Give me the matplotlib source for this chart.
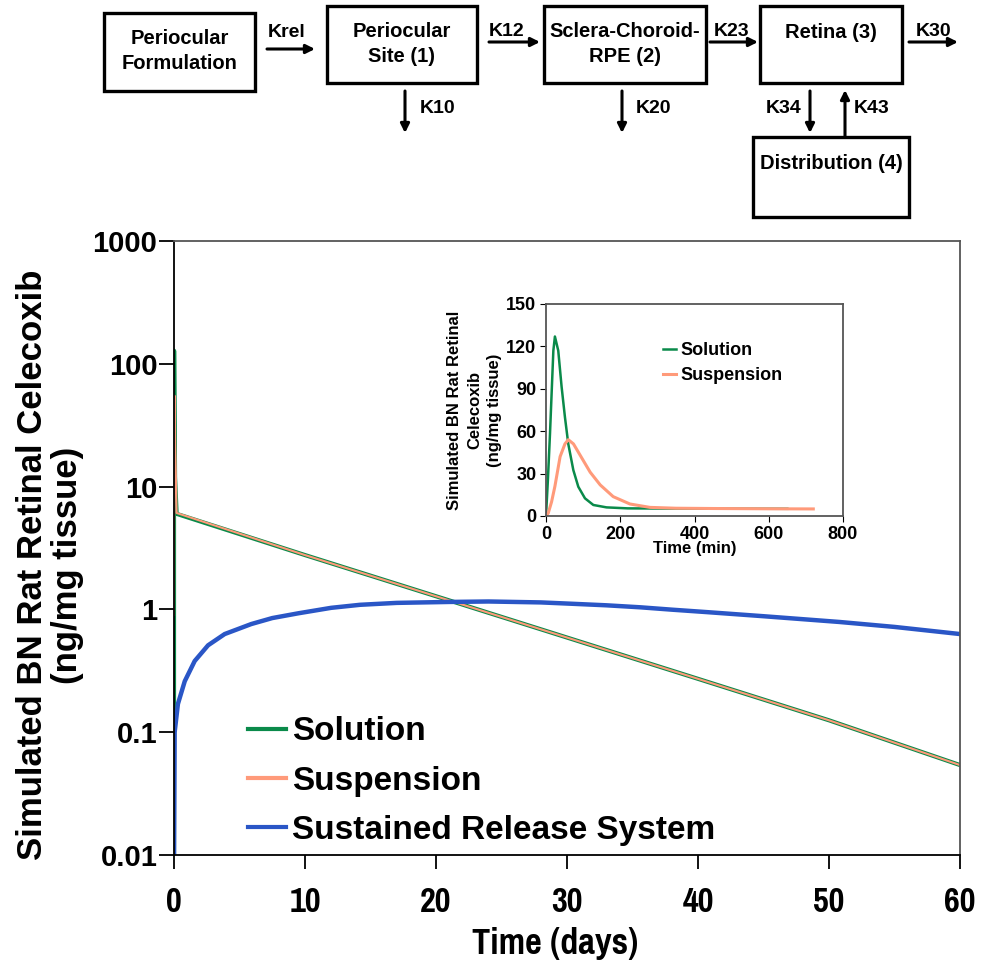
import matplotlib
matplotlib.use("Agg")
import matplotlib.pyplot as plt
from matplotlib.patches import Rectangle
from matplotlib import font_manager

# fuentes
plt.rcParams['font.family'] = ['Liberation Sans', 'DejaVu Sans']
plt.rcParams['font.weight'] = 'bold'

# buscar una fuente estrecha en negrita para el eje x (primero Liberation Sans Narrow)
fp_narrow = None
ficheros = [f.fname for f in font_manager.fontManager.ttflist]
for clave in ['liberationsansnarrow-bold.', 'narrow-bold', 'narrowbold', 'condensed-bold', 'condensedbold']:
    for fn in ficheros:
        base = fn.lower().replace(' ', '').split('/')[-1]
        if clave in base and 'italic' not in base and 'oblique' not in base:
            fp_narrow = font_manager.FontProperties(fname=fn)
            break
    if fp_narrow is not None:
        break
es_estrecha = fp_narrow is not None and 'narrow' in fp_narrow.get_file().lower()
if not es_estrecha:
    fp_narrow = font_manager.FontProperties(family='Liberation Sans', weight='bold')
tam_x = 27 if es_estrecha else 22

# datos del grafico principal (dias)
sol_days = [0.0, 0.0005, 0.017, 0.08, 0.2, 10, 20, 30, 40, 50, 60]
sol_vals = [0.0, 128, 126, 12, 6.0, 2.77, 1.28, 0.59, 0.272, 0.125, 0.054]
sus_days = [0.0005, 0.015, 0.042, 0.1, 0.2, 10, 20, 30, 40, 50, 60]
sus_vals = [0.9, 32, 55, 20, 6.1, 2.77, 1.28, 0.59, 0.272, 0.125, 0.054]
srs_days = [0.0, 0.001, 0.05, 0.3, 0.82, 1.58, 2.6, 3.87, 5.9, 7.5, 9.5, 12, 14.2,
            17, 21, 24, 28, 30.5, 33, 35.6, 38, 40.7, 45, 50.8, 55, 60]
srs_vals = [0.01, 0.01, 0.10, 0.17, 0.26, 0.38, 0.51, 0.63, 0.76, 0.85, 0.93, 1.03, 1.09,
            1.13, 1.15, 1.16, 1.14, 1.11, 1.08, 1.04, 0.995, 0.95, 0.88, 0.79, 0.72, 0.63]

# datos del recuadro (minutos)
ins_sol_min = [0, 5, 10.8, 19.8, 24, 33, 42, 51, 60, 73.6, 87, 105, 127.5, 163, 220, 300, 450, 650]
ins_sol_val = [0, 25, 58.5, 117, 127, 117, 91.5, 70, 51, 32.5, 20.7, 12.5, 7.8, 6.1, 5.4, 5.3, 5.2, 5.1]
ins_sus_min = [0, 6, 15, 24, 38, 51, 60, 74, 92, 119, 146, 181, 226, 280, 350, 450, 600, 720]
ins_sus_val = [0, 2, 10, 21, 42, 51, 54, 51, 43, 31, 22, 13.7, 8.5, 6.1, 5.5, 5.3, 5.1, 5.0]

c_sol = '#0a8a4a'
c_sus = '#ff9a7a'
c_srs = '#2a56c6'
c_frame = '#555555'

fig = plt.figure(figsize=(9.82, 9.69), dpi=100)

# grafico principal
ax = fig.add_axes([174/982, 1-855/969, (960-174)/982, (855-241)/969])
ax.plot(sol_days, sol_vals, color=c_sol, lw=3, label='Solution')
ax.plot(sus_days, sus_vals, color=c_sus, lw=1.5, label='Suspension')
ax.plot(srs_days, srs_vals, color=c_srs, lw=3.2, label='Sustained Release System')
ax.set_yscale('log')
ax.set_ylim(0.01, 1000)
ax.set_xlim(0, 60)
ax.set_yticks([0.01, 0.1, 1, 10, 100, 1000])
ax.set_yticklabels(['0.01', '0.1', '1', '10', '100', '1000'])
ax.minorticks_off()
ax.set_xticks([0, 10, 20, 30, 40, 50, 60])
ax.tick_params(axis='y', direction='out', length=11, width=1.3, labelsize=21, pad=1)
ax.tick_params(axis='x', direction='out', length=10, width=1.3, pad=12)
for lab in ax.get_xticklabels():
    lab.set_fontproperties(fp_narrow)
    lab.set_fontsize(tam_x)
for lab in ax.get_yticklabels():
    lab.set_fontweight('bold')
for s in ax.spines.values():
    s.set_color(c_frame)
    s.set_linewidth(1.3)
ax.spines['left'].set_color('black')
ax.spines['bottom'].set_color('black')
leg = ax.legend(loc='lower left', bbox_to_anchor=(0.069, -0.018), frameon=False,
                prop={'weight': 'bold', 'size': 24}, handlelength=1.12,
                handletextpad=0.2, labelspacing=0.55, borderaxespad=0.2)
for h in leg.get_lines():
    h.set_linewidth(3)

fig.text(33/982, 1-565/969, 'Simulated BN Rat Retinal Celecoxib', rotation=90,
         ha='center', va='center', fontsize=25, fontweight='bold')
fig.text(68/982, 1-565/969, '(ng/mg tissue)', rotation=90,
         ha='center', va='center', fontsize=25, fontweight='bold')
xl = fig.text(555/982, 1-944/969, 'Time (days)', ha='center', va='center',
              fontproperties=fp_narrow)
xl.set_fontsize(tam_x + 1.5)

# recuadro
ins = fig.add_axes([546/982, 1-516/969, (843-546)/982, (516-304)/969])
ins.plot(ins_sol_min, ins_sol_val, color=c_sol, lw=1.8, label='Solution')
ins.plot(ins_sus_min, ins_sus_val, color=c_sus, lw=2.2, label='Suspension')
ins.set_xlim(0, 800)
ins.set_ylim(0, 150)
ins.set_xticks([0, 200, 400, 600, 800])
ins.set_yticks([0, 30, 60, 90, 120, 150])
ins.tick_params(direction='out', length=4, labelsize=13, pad=3)
for lab in ins.get_xticklabels() + ins.get_yticklabels():
    lab.set_fontweight('bold')
for s in ins.spines.values():
    s.set_color(c_frame)
    s.set_linewidth(1.3)
ins.set_xlabel('Time (min)', fontsize=12, fontweight='bold', labelpad=-1)
ins.set_ylabel('Simulated BN Rat Retinal\nCelecoxib\n(ng/mg tissue)', fontsize=12,
               fontweight='bold', labelpad=3, linespacing=1.4)
ins.legend(loc='upper left', bbox_to_anchor=(0.37, 0.855), frameon=False,
           prop={'weight': 'bold', 'size': 13}, handlelength=0.7,
           handletextpad=0.25, labelspacing=0.45, borderaxespad=0)

# esquema de compartimentos arriba
dg = fig.add_axes([0, 0, 1, 1])
dg.set_xlim(0, 982)
dg.set_ylim(969, 0)
dg.axis('off')

cajas = [
    (104, 13, 151, 78, 'Periocular\nFormulation', 51),
    (327, 6, 150, 77, 'Periocular\nSite (1)', 44),
    (544, 6, 162, 77, 'Sclera-Choroid-\nRPE (2)', 44),
    (760, 6, 142, 77, 'Retina (3)', 32),
    (753, 137, 156, 80, 'Distribution (4)', 163),
]
for x, y, w, h, txt, ty in cajas:
    dg.add_patch(Rectangle((x, y), w, h, fill=False, lw=2.4, ec='black'))
    dg.text(x + w/2, ty, txt, ha='center', va='center', fontsize=14.5,
            fontweight='bold', linespacing=1.45)

def flecha(x0, y0, x1, y1):
    dg.annotate('', xy=(x1, y1), xytext=(x0, y0),
                arrowprops=dict(arrowstyle='-|>', lw=2.2, color='black',
                                mutation_scale=13, shrinkA=0, shrinkB=0))

def etiqueta(x, y, txt):
    dg.text(x, y, txt, ha='center', va='center', fontsize=14, fontweight='bold')

flecha(267, 49, 315, 49)
etiqueta(287, 32, 'Krel')
flecha(489, 42, 540, 42)
etiqueta(507, 31, 'K12')
flecha(710, 42, 758, 42)
etiqueta(732, 31, 'K23')
flecha(909, 42, 958, 42)
etiqueta(934, 31, 'K30')
flecha(405, 91, 405, 133)
etiqueta(438, 108, 'K10')
flecha(622, 91, 622, 133)
etiqueta(654, 108, 'K20')
flecha(810, 91, 810, 133)
etiqueta(784, 108, 'K34')
flecha(845, 136, 845, 90)
etiqueta(872, 108, 'K43')

fig.savefig('out.png', dpi=100)
